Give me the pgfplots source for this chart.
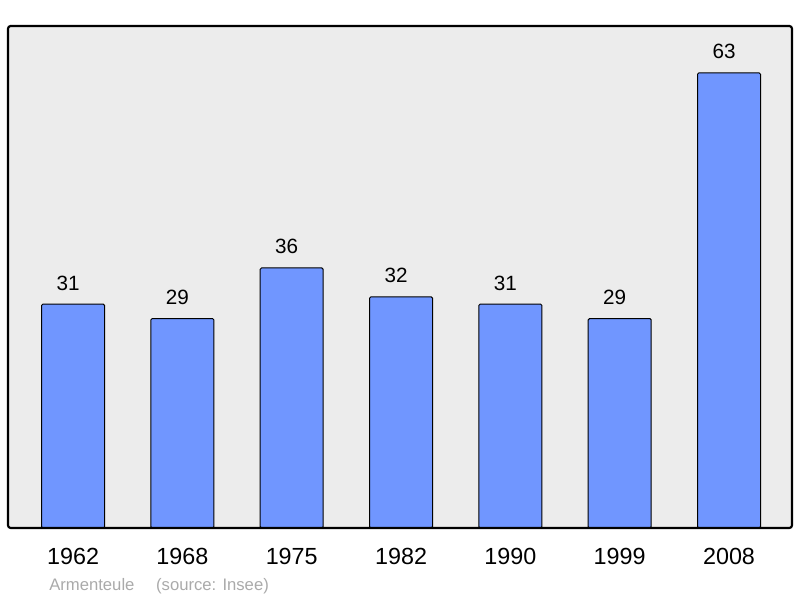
\documentclass[border=0pt]{standalone}
\usepackage{fontspec}
\setmainfont{Liberation Sans}
\usepackage{pgfplots}
\pgfplotsset{compat=1.18}
\definecolor{barblue}{RGB}{112,150,255}
\definecolor{panel}{RGB}{236,236,236}
\definecolor{foot}{RGB}{170,170,170}
\begin{document}
\begin{tikzpicture}
\useasboundingbox (0,0) rectangle (600pt,448.5pt);
\begin{axis}[
    at={(6pt,52.5pt)}, anchor=south west,
    scale only axis,
    width=588pt, height=376.5pt,
    xmin=-0.595, xmax=6.576,
    ymin=0, ymax=69.5,
    axis line style={draw=none},
    axis background/.style={fill=panel},
    ytick=\empty,
    xtick={0,...,6},
    xticklabels={1962,1968,1975,1982,1990,1999,2008},
    major tick length=0pt,
    xticklabel style={font=\fontsize{17.5}{19}\selectfont, anchor=base, yshift=-27.75pt, inner sep=0pt},
    ybar, bar width=47.25pt, bar shift=0pt,
    /pgf/number format/assume math mode=true,
    nodes near coords,
    every node near coord/.append style={font=\fontsize{15.5}{17}\selectfont, anchor=base, inner sep=0pt, yshift=10.5pt, xshift=-3.75pt},
    clip=false,
]
\addplot[draw=black, line width=0.75pt, fill=barblue, rounded corners=1pt] coordinates {
  (0,31) (1,29) (2,36) (3,32) (4,31) (5,29) (6,63)};
\draw[line width=1.6pt, rounded corners=2pt] (rel axis cs:0,0) rectangle (rel axis cs:1,1);
\end{axis}
\node[anchor=base west, text=foot, font=\fontsize{12.5}{14}\selectfont, inner sep=0pt] at (36.75pt,5.6pt) {Armenteule\hspace{1.3em}(source: Insee)};
\end{tikzpicture}
\end{document}
